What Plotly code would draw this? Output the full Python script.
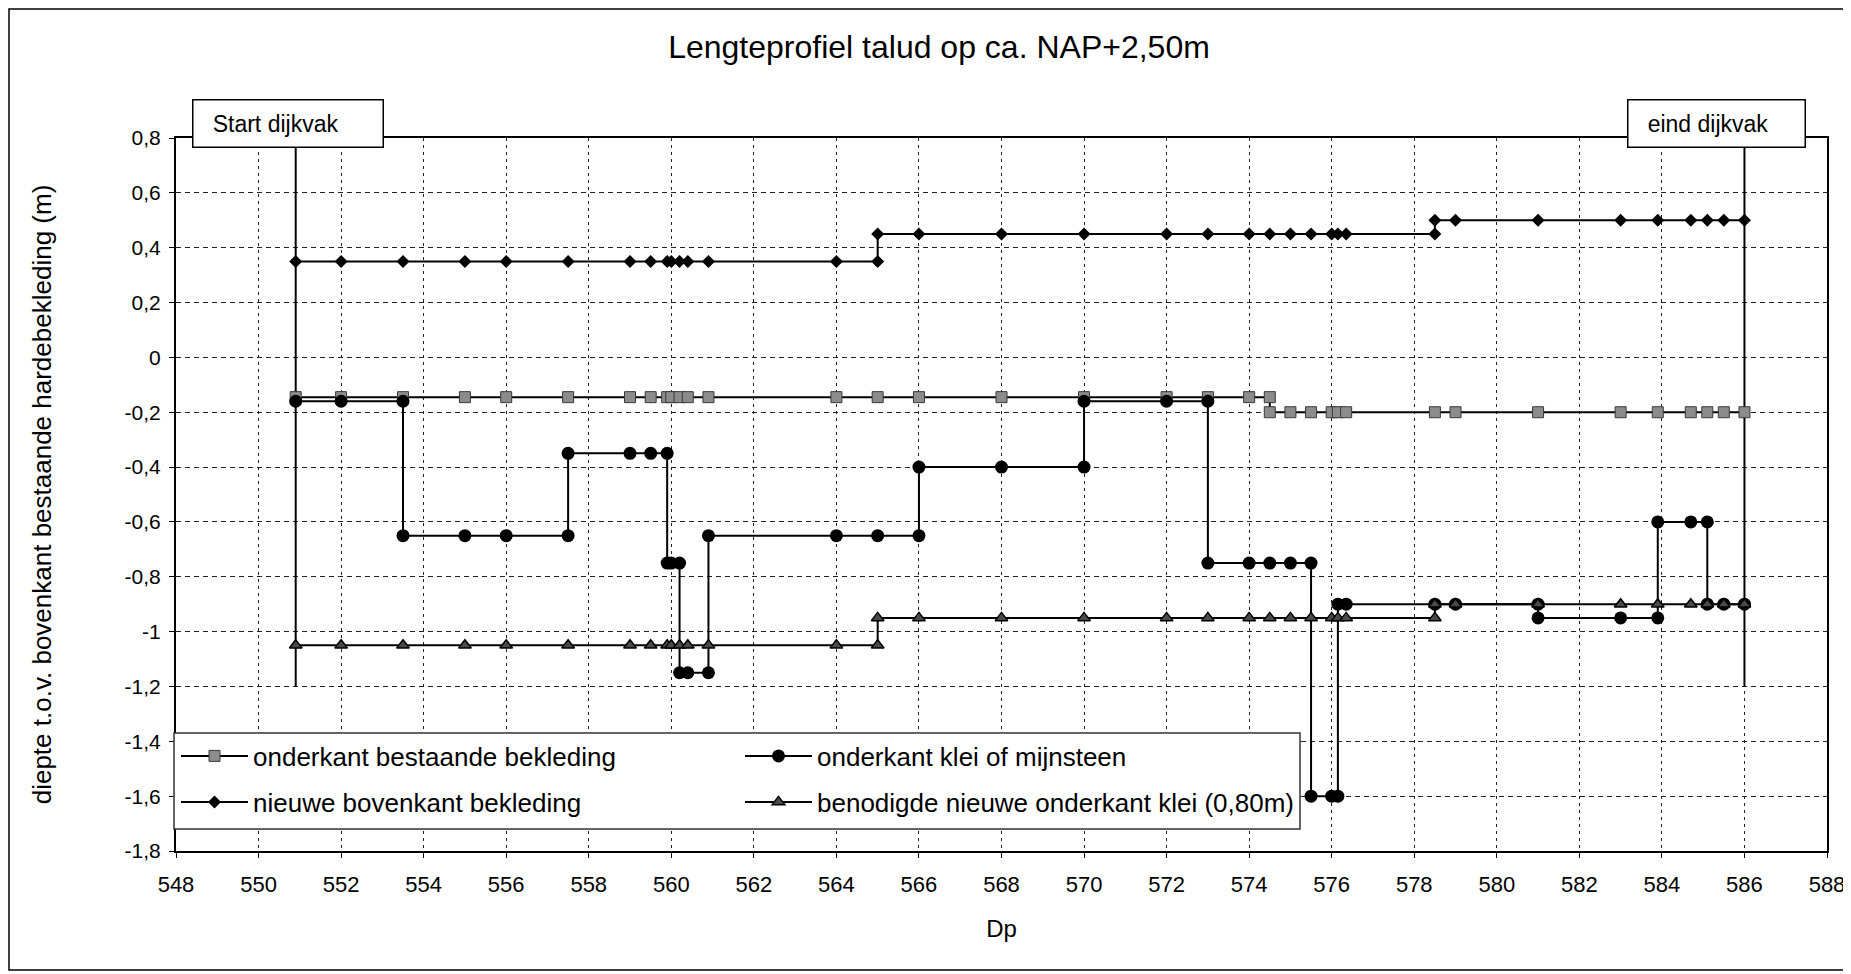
import plotly.graph_objects as go

# Dp positions and depths
x_bestaand = [550.9, 552, 553.5, 555, 556, 557.5, 559, 559.5, 559.9, 560, 560.2, 560.4, 560.9,
              564, 565, 566, 568, 570, 572, 573, 574, 574.5, 574.5, 575, 575.5, 576, 576.15,
              576.35, 578.5, 579, 581, 583, 583.9, 584.7, 585.1, 585.5, 586]
y_bestaand = [-0.145, -0.145, -0.145, -0.145, -0.145, -0.145, -0.145, -0.145, -0.145, -0.145,
              -0.145, -0.145, -0.145, -0.145, -0.145, -0.145, -0.145, -0.145, -0.145, -0.145,
              -0.145, -0.145, -0.2, -0.2, -0.2, -0.2, -0.2, -0.2, -0.2, -0.2, -0.2, -0.2, -0.2,
              -0.2, -0.2, -0.2, -0.2]

x_klei = [550.9, 552, 553.5, 553.5, 555, 556, 557.5, 557.5, 559, 559.5, 559.9, 559.9, 560, 560.2,
          560.2, 560.4, 560.9, 560.9, 564, 565, 566, 566, 568, 570, 570, 572, 573, 573, 574, 574.5,
          575, 575.5, 575.5, 576, 576.15, 576.15, 576.35, 578.5, 579, 581, 581, 583, 583.9, 583.9,
          584.7, 585.1, 585.1, 585.5, 586]
y_klei = [-0.16, -0.16, -0.16, -0.65, -0.65, -0.65, -0.65, -0.35, -0.35, -0.35, -0.35, -0.75,
          -0.75, -0.75, -1.15, -1.15, -1.15, -0.65, -0.65, -0.65, -0.65, -0.4, -0.4, -0.4, -0.16,
          -0.16, -0.16, -0.75, -0.75, -0.75, -0.75, -0.75, -1.6, -1.6, -1.6, -0.9, -0.9, -0.9,
          -0.9, -0.9, -0.95, -0.95, -0.95, -0.6, -0.6, -0.6, -0.9, -0.9, -0.9]

x_nieuw = [550.9, 552, 553.5, 555, 556, 557.5, 559, 559.5, 559.9, 560, 560.2, 560.4, 560.9, 564,
           565, 565, 566, 568, 570, 572, 573, 574, 574.5, 575, 575.5, 576, 576.15, 576.35, 578.5,
           578.5, 579, 581, 583, 583.9, 584.7, 585.1, 585.5, 586]
y_nieuw = [0.35, 0.35, 0.35, 0.35, 0.35, 0.35, 0.35, 0.35, 0.35, 0.35, 0.35, 0.35, 0.35, 0.35,
           0.35, 0.45, 0.45, 0.45, 0.45, 0.45, 0.45, 0.45, 0.45, 0.45, 0.45, 0.45, 0.45, 0.45,
           0.45, 0.5, 0.5, 0.5, 0.5, 0.5, 0.5, 0.5, 0.5, 0.5]

x_benodigd = x_nieuw
y_benodigd = [-1.05, -1.05, -1.05, -1.05, -1.05, -1.05, -1.05, -1.05, -1.05, -1.05, -1.05, -1.05,
              -1.05, -1.05, -1.05, -0.95, -0.95, -0.95, -0.95, -0.95, -0.95, -0.95, -0.95, -0.95,
              -0.95, -0.95, -0.95, -0.95, -0.95, -0.9, -0.9, -0.9, -0.9, -0.9, -0.9, -0.9, -0.9,
              -0.9]

dijkvak_x = [550.9, 586]
dijkvak_labels = ["Start dijkvak", "eind dijkvak"]
dijkvak_y = [-1.2, 0.8]

y_ticks = [0.8, 0.6, 0.4, 0.2, 0, -0.2, -0.4, -0.6, -0.8, -1, -1.2, -1.4, -1.6, -1.8]
y_ticklabels = ["0,8", "0,6", "0,4", "0,2", "0", "-0,2", "-0,4", "-0,6", "-0,8", "-1", "-1,2",
                "-1,4", "-1,6", "-1,8"]

FONT = "Arial, Liberation Sans, sans-serif"
W, H = 1851, 974
OFF = 8  # the page body margin shifts the figure by this much
ML, MR, MT, MB = 168, 32, 130, 131
PW, PH = W - ML - MR, H - MT - MB


def px_x(p):
    # page pixel -> paper fraction
    return (p - OFF - ML) / PW


def px_y(p):
    return (H - MB - (p - OFF)) / PH


fig = go.Figure()

# callout lines for start / end of the dike section
for xv in dijkvak_x:
    fig.add_trace(go.Scatter(x=[xv, xv], y=dijkvak_y, mode="lines", showlegend=False,
                             line=dict(color="black", width=2), hoverinfo="skip", cliponaxis=False))

fig.add_trace(go.Scatter(
    x=x_bestaand, y=y_bestaand, name="onderkant bestaande bekleding", mode="lines+markers",
    line=dict(color="black", width=2), legend="legend",
    marker=dict(symbol="square", size=11, color="#8c8c8c", line=dict(color="#3a3a3a", width=1))))
fig.add_trace(go.Scatter(
    x=x_klei, y=y_klei, name="onderkant klei of mijnsteen", mode="lines+markers",
    line=dict(color="black", width=2), legend="legend",
    marker=dict(symbol="circle", size=13, color="black")))
fig.add_trace(go.Scatter(
    x=x_nieuw, y=y_nieuw, name="nieuwe bovenkant bekleding", mode="lines+markers",
    line=dict(color="black", width=2), legend="legend2",
    marker=dict(symbol="diamond", size=10, color="black")))
fig.add_trace(go.Scatter(
    x=x_benodigd, y=y_benodigd, name="benodigde nieuwe onderkant klei (0,80m)",
    mode="lines+markers", line=dict(color="black", width=2), legend="legend2",
    marker=dict(symbol="triangle-up", size=11, color="#4a4a4a", line=dict(color="black", width=1.5))))

shifts = [-8, -28]
widths = [189, 176]
for xv, lab, sh, bw in zip(dijkvak_x, dijkvak_labels, shifts, widths):
    fig.add_annotation(x=xv, xref="x", y=px_y(123), yref="paper", xanchor="center",
                       yanchor="middle", xshift=sh, showarrow=False,
                       text="\u00a0\u00a0\u00a0" + lab, align="left", width=bw, height=46,
                       borderpad=0, bgcolor="white", bordercolor="black", borderwidth=1.5,
                       font=dict(family=FONT, size=23, color="black"))

# outer chart frame
fig.add_shape(type="rect", xref="paper", yref="paper", x0=px_x(9), x1=px_x(1849),
              y0=px_y(970), y1=px_y(9), line=dict(color="black", width=1.5), layer="below")
# legend box (two legend rows are placed on top of it)
fig.add_shape(type="rect", xref="paper", yref="paper", x0=px_x(174), x1=px_x(1300),
              y0=px_y(829), y1=px_y(733), line=dict(color="#333", width=1.5),
              fillcolor="white", layer="above")

legend_style = dict(orientation="h", x=0, xanchor="left", yanchor="middle",
                    entrywidth=482, itemwidth=67, bgcolor="rgba(0,0,0,0)", borderwidth=0,
                    font=dict(size=26, family=FONT, color="black"))

fig.update_layout(
    width=W, height=H,
    margin=dict(l=ML, r=MR, t=MT, b=MB),
    paper_bgcolor="white", plot_bgcolor="white",
    font=dict(family=FONT, size=21, color="black"),
    title=dict(text="Lengteprofiel talud op ca. NAP+2,50m", x=px_x(939), xref="paper",
               xanchor="center", y=1 - (47 - OFF) / H, yanchor="middle",
               font=dict(size=32, family=FONT, color="black")),
    xaxis=dict(
        range=[548, 588], dtick=2, tick0=548, automargin=False,
        showgrid=True, gridcolor="#222", gridwidth=1.2, griddash="3px,4px",
        showline=True, linecolor="black", linewidth=2, mirror=True,
        ticks="outside", ticklen=5, tickcolor="black", ticklabelstandoff=8,
        tickfont=dict(size=22),
        zeroline=False,
        title=dict(text="Dp", standoff=24, font=dict(size=24)),
    ),
    yaxis=dict(
        range=[-1.8, 0.8], tickvals=y_ticks, ticktext=y_ticklabels, automargin=False,
        showgrid=True, gridcolor="#222", gridwidth=1.2, griddash="5px,4px",
        showline=True, linecolor="black", linewidth=2, mirror=True,
        ticks="outside", ticklen=5, tickcolor="black", ticklabelstandoff=4,
        zeroline=False,
        title=dict(text="diepte t.o.v. bovenkant bestaande hardebekleding (m)", standoff=66,
                   font=dict(size=26)),
    ),
    legend=dict(legend_style, y=px_y(756)),
    legend2=dict(legend_style, y=px_y(802)),
    showlegend=True,
)

fig.write_html("out.html")
